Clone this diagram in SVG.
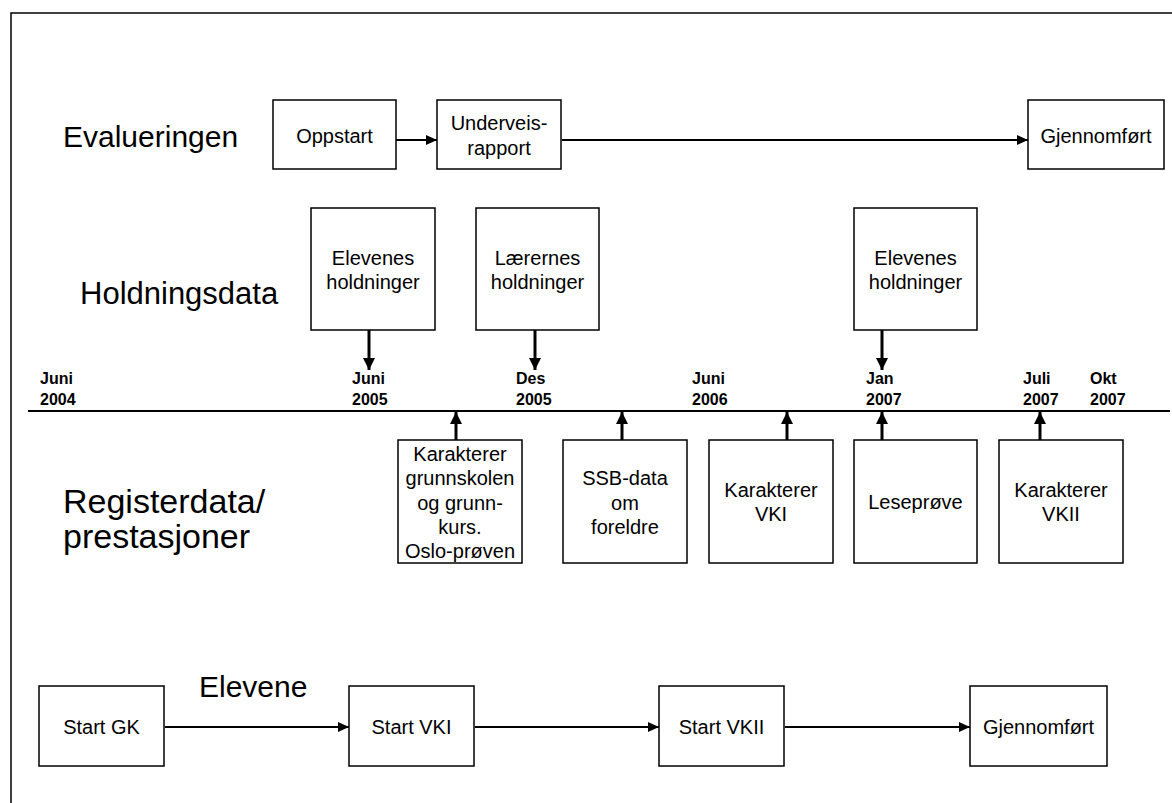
<svg xmlns="http://www.w3.org/2000/svg" width="1172" height="803" viewBox="0 0 1172 803">
<style>
  text { font-family: "Liberation Sans", Arial, sans-serif; fill: #000; }
  .h { font-size: 30px; }
  .b { font-size: 20px; text-anchor: middle; }
  .d { font-size: 16px; font-weight: bold; }
  rect.box { fill: #fff; stroke: #000; stroke-width: 1.5; }
  .thin { stroke: #000; stroke-width: 2; fill: none; marker-end: url(#ah); }
  .thick { stroke: #000; stroke-width: 3; fill: none; marker-end: url(#ahb); }
  .axis { stroke: #000; stroke-width: 2; fill: none; }
</style>
<defs>
  <marker id="ah" markerUnits="userSpaceOnUse" markerWidth="11" markerHeight="10" refX="11" refY="5" orient="auto">
    <path d="M0,0 L11,5 L0,10 z" fill="#000"/>
  </marker>
  <marker id="ahb" markerUnits="userSpaceOnUse" markerWidth="12" markerHeight="12" refX="12" refY="6" orient="auto">
    <path d="M0,0 L12,6 L0,12 z" fill="#000"/>
  </marker>
</defs>
<rect width="1172" height="803" fill="#fff"/>
<path d="M11,803 V13 H1172" stroke="#000" stroke-width="1.5" fill="none"/>

<text class="h" x="63" y="147">Evalueringen</text>
<text class="h" x="80" y="304" style="font-size:31px">Holdningsdata</text>
<text class="h" x="63" y="513" style="font-size:34px">Registerdata/</text>
<text class="h" x="63" y="548" style="font-size:34px">prestasjoner</text>
<text class="h" x="199" y="697">Elevene</text>

<g id="connectors">
  <line class="axis" x1="28" y1="411" x2="1170" y2="411"/>
  <line class="thin" x1="396" y1="140" x2="437" y2="140"/>
  <line class="thin" x1="562" y1="140" x2="1028" y2="140"/>
  <line class="thick" x1="369" y1="330" x2="369" y2="370"/>
  <line class="thick" x1="535" y1="330" x2="535" y2="370"/>
  <line class="thick" x1="882" y1="330" x2="882" y2="370"/>
  <line class="thick" x1="456" y1="440" x2="456" y2="412"/>
  <line class="thick" x1="622" y1="440" x2="622" y2="412"/>
  <line class="thick" x1="787" y1="440" x2="787" y2="412"/>
  <line class="thick" x1="882" y1="440" x2="882" y2="412"/>
  <line class="thick" x1="1040" y1="440" x2="1040" y2="412"/>
  <line class="thin" x1="165" y1="727" x2="349" y2="727"/>
  <line class="thin" x1="475" y1="727" x2="659" y2="727"/>
  <line class="thin" x1="785" y1="727" x2="970" y2="727"/>
</g>

<g id="dates">
  <text class="d" x="40" y="384">Juni</text><text class="d" x="40" y="405">2004</text>
  <text class="d" x="352" y="384">Juni</text><text class="d" x="352" y="405">2005</text>
  <text class="d" x="516" y="384">Des</text><text class="d" x="516" y="405">2005</text>
  <text class="d" x="692" y="384">Juni</text><text class="d" x="692" y="405">2006</text>
  <text class="d" x="866" y="384">Jan</text><text class="d" x="866" y="405">2007</text>
  <text class="d" x="1023" y="384">Juli</text><text class="d" x="1023" y="405">2007</text>
  <text class="d" x="1090" y="384">Okt</text><text class="d" x="1090" y="405">2007</text>
</g>

<g id="oppstart"><rect class="box" x="273" y="100" width="123" height="69"/><text class="b" x="334.5" y="143">Oppstart</text></g>
<g id="underveis"><rect class="box" x="437" y="100" width="124" height="69"/><text class="b" x="499" y="130">Underveis-</text><text class="b" x="499" y="155">rapport</text></g>
<g id="eval-gjennomfort"><rect class="box" x="1028" y="100" width="136" height="69"/><text class="b" x="1096" y="143">Gjennomført</text></g>

<g id="elevenes1"><rect class="box" x="311" y="208" width="124" height="122"/><text class="b" x="373" y="265">Elevenes</text><text class="b" x="373" y="289">holdninger</text></g>
<g id="laerernes"><rect class="box" x="476" y="208" width="123" height="122"/><text class="b" x="537.5" y="265">Lærernes</text><text class="b" x="537.5" y="289">holdninger</text></g>
<g id="elevenes2"><rect class="box" x="854" y="208" width="123" height="122"/><text class="b" x="915.5" y="265">Elevenes</text><text class="b" x="915.5" y="289">holdninger</text></g>

<g id="karakterer-gs"><rect class="box" x="398" y="440" width="124" height="123"/>
  <text class="b" x="460" y="461">Karakterer</text><text class="b" x="460" y="485">grunnskolen</text><text class="b" x="460" y="509.5">og grunn-</text><text class="b" x="460" y="534">kurs.</text><text class="b" x="460" y="558">Oslo-prøven</text></g>
<g id="ssb"><rect class="box" x="563" y="440" width="124" height="123"/>
  <text class="b" x="625" y="485">SSB-data</text><text class="b" x="625" y="509.5">om</text><text class="b" x="625" y="534">foreldre</text></g>
<g id="karakterer-vki"><rect class="box" x="709" y="440" width="124" height="123"/>
  <text class="b" x="771" y="497">Karakterer</text><text class="b" x="771" y="521">VKI</text></g>
<g id="leseprove"><rect class="box" x="854" y="440" width="123" height="123"/>
  <text class="b" x="915.5" y="509">Leseprøve</text></g>
<g id="karakterer-vkii"><rect class="box" x="999" y="440" width="124" height="123"/>
  <text class="b" x="1061" y="497">Karakterer</text><text class="b" x="1061" y="521">VKII</text></g>

<g id="start-gk"><rect class="box" x="39" y="686" width="125" height="80"/><text class="b" x="101.5" y="734">Start GK</text></g>
<g id="start-vki"><rect class="box" x="349" y="686" width="125" height="80"/><text class="b" x="411.5" y="734">Start VKI</text></g>
<g id="start-vkii"><rect class="box" x="659" y="686" width="125" height="80"/><text class="b" x="721.5" y="734">Start VKII</text></g>
<g id="elever-gjennomfort"><rect class="box" x="970" y="686" width="137" height="80"/><text class="b" x="1038.5" y="734">Gjennomført</text></g>
</svg>
